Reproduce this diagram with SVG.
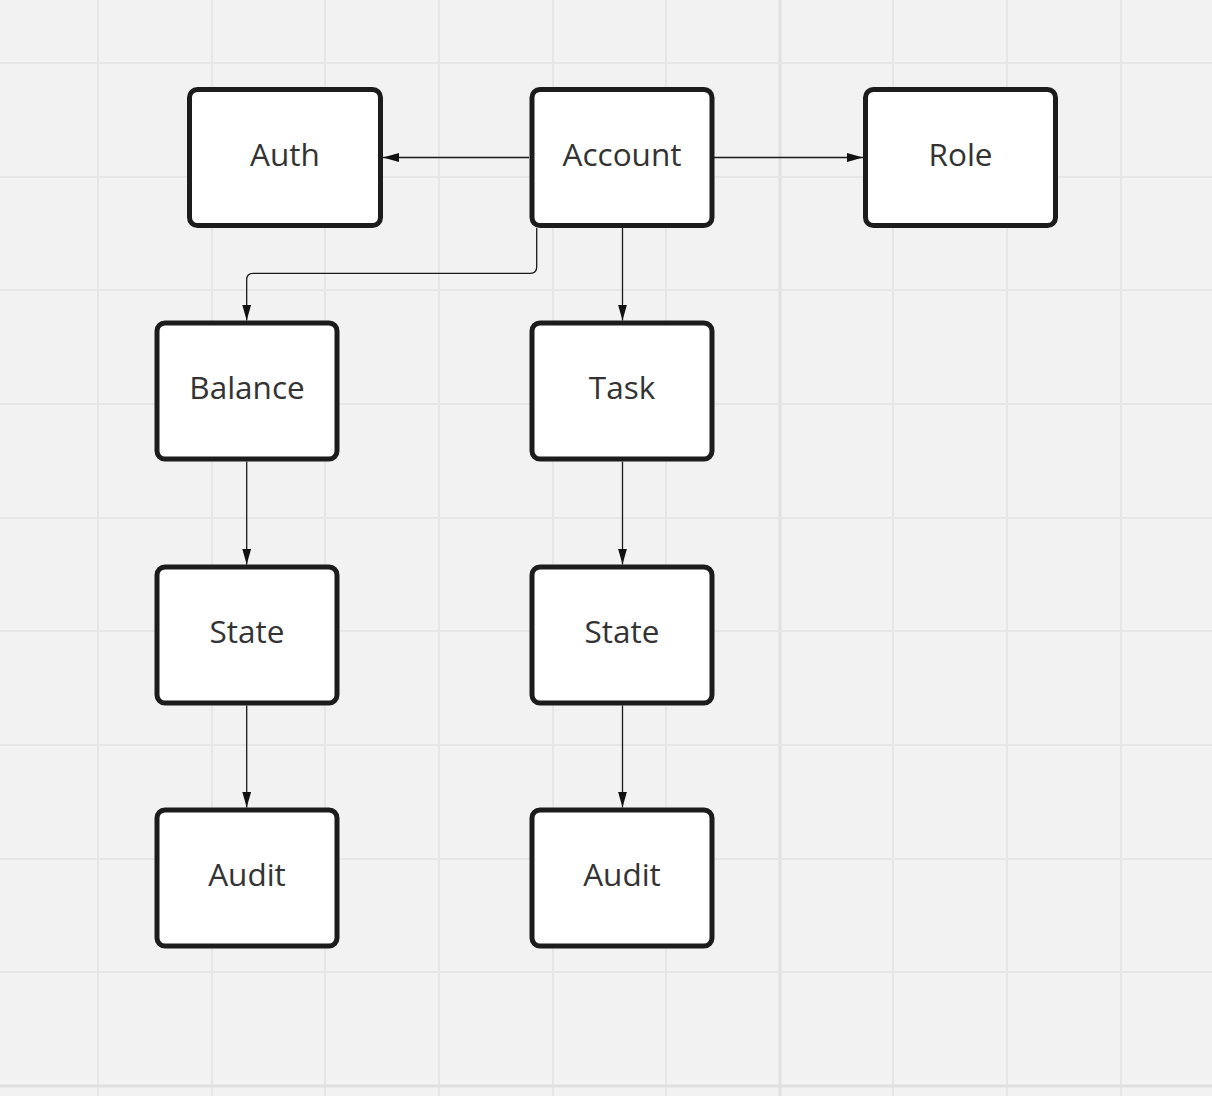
<svg xmlns="http://www.w3.org/2000/svg" width="1212" height="1096" viewBox="0 0 1212 1096">
<defs>
<style>
.grid line{stroke:#e6e6e6;stroke-width:2}
.grid line.major{stroke:#e0e0e0;stroke-width:3}
.node rect{fill:#ffffff;stroke:#1c1c1c;stroke-width:5}
.node text{font-family:"Open Sans","Noto Sans","Liberation Sans",sans-serif;font-size:31.5px;fill:#333333;text-anchor:middle}
.edges path{fill:none;stroke:#1a1a1a;stroke-width:1.3}
</style>
<marker id="arr" markerUnits="userSpaceOnUse" viewBox="0 0 16 9" refX="16" refY="4.5" markerWidth="16" markerHeight="9" orient="auto">
<path d="M0,0 L16,4.5 L0,9 Z" fill="#111111"/>
</marker>
</defs>
<rect x="0" y="0" width="1212" height="1096" fill="#f2f2f2"/>
<g class="grid">
<line x1="98" y1="0" x2="98" y2="1096"/>
<line x1="212" y1="0" x2="212" y2="1096"/>
<line x1="325" y1="0" x2="325" y2="1096"/>
<line x1="439" y1="0" x2="439" y2="1096"/>
<line x1="553" y1="0" x2="553" y2="1096"/>
<line x1="666" y1="0" x2="666" y2="1096"/>
<line class="major" x1="780" y1="0" x2="780" y2="1096"/>
<line x1="893" y1="0" x2="893" y2="1096"/>
<line x1="1007" y1="0" x2="1007" y2="1096"/>
<line x1="1121" y1="0" x2="1121" y2="1096"/>
<line x1="0" y1="63" x2="1212" y2="63"/>
<line x1="0" y1="177" x2="1212" y2="177"/>
<line x1="0" y1="290" x2="1212" y2="290"/>
<line x1="0" y1="404" x2="1212" y2="404"/>
<line x1="0" y1="518" x2="1212" y2="518"/>
<line x1="0" y1="631" x2="1212" y2="631"/>
<line x1="0" y1="745" x2="1212" y2="745"/>
<line x1="0" y1="859" x2="1212" y2="859"/>
<line x1="0" y1="972" x2="1212" y2="972"/>
<line class="major" x1="0" y1="1086" x2="1212" y2="1086"/>
</g>
<g class="edges">
<path d="M529,157.5 L383,157.5" marker-end="url(#arr)"/>
<path d="M714,157.5 L863,157.5" marker-end="url(#arr)"/>
<path d="M622.5,228 L622.5,320.5" marker-end="url(#arr)"/>
<path d="M536.7,228 L536.7,267 Q536.7,273.3 530.4,273.3 L253,273.3 Q246.7,273.3 246.7,279.6 L246.7,320.5" marker-end="url(#arr)"/>
<path d="M246.7,461.5 L246.7,564.5" marker-end="url(#arr)"/>
<path d="M246.7,705.5 L246.7,807.5" marker-end="url(#arr)"/>
<path d="M622.5,461.5 L622.5,564.5" marker-end="url(#arr)"/>
<path d="M622.5,705.5 L622.5,807.5" marker-end="url(#arr)"/>
</g>
<g id="node-auth" class="node"><rect x="189.5" y="89.5" width="191" height="136" rx="8"/><text x="285" y="166">Auth</text></g>
<g id="node-account" class="node"><rect x="532" y="89.5" width="180" height="136" rx="8"/><text x="622" y="166">Account</text></g>
<g id="node-role" class="node"><rect x="865.5" y="89.5" width="190" height="136" rx="8"/><text x="960.5" y="166">Role</text></g>
<g id="node-balance" class="node"><rect x="157" y="323" width="180" height="136" rx="8"/><text x="247" y="399">Balance</text></g>
<g id="node-task" class="node"><rect x="532" y="323" width="180" height="136" rx="8"/><text x="622" y="399">Task</text></g>
<g id="node-state-left" class="node"><rect x="157" y="567" width="180" height="136" rx="8"/><text x="247" y="643">State</text></g>
<g id="node-state-right" class="node"><rect x="532" y="567" width="180" height="136" rx="8"/><text x="622" y="643">State</text></g>
<g id="node-audit-left" class="node"><rect x="157" y="810" width="180" height="136" rx="8"/><text x="247" y="886">Audit</text></g>
<g id="node-audit-right" class="node"><rect x="532" y="810" width="180" height="136" rx="8"/><text x="622" y="886">Audit</text></g>
</svg>
